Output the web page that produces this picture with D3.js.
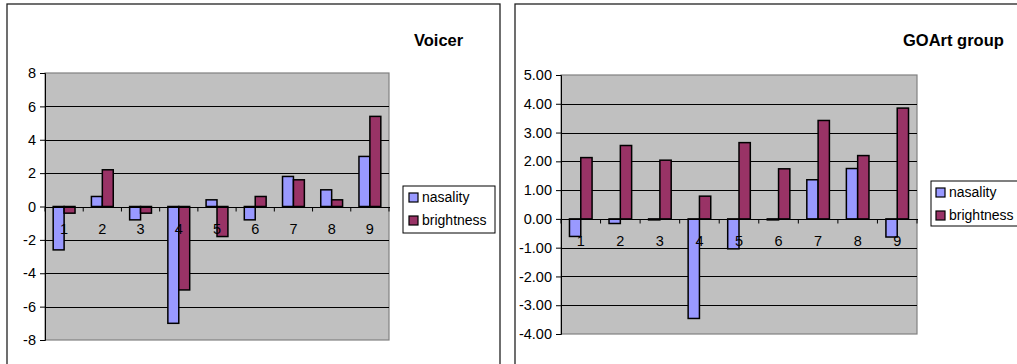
<!DOCTYPE html>
<html><head><meta charset="utf-8">
<script src="https://cdn.jsdelivr.net/npm/d3@7"></script>
<style>
body{margin:0;background:#fff}
svg{display:block;font-family:"Liberation Sans",Arial,sans-serif}
</style>
</head><body>
<svg id="c" width="1017" height="364"></svg>
<script>
const categories = ["1","2","3","4","5","6","7","8","9"];
const seriesNames = ["nasality","brightness"];
const seriesColors = ["#9999FF","#993366"];

const voicerTitle = "Voicer";
const voicerNasality   = [-2.6, 0.6, -0.8, -7.0, 0.4, -0.8, 1.8, 1.0, 3.0];
const voicerBrightness = [-0.4, 2.2, -0.4, -5.0, -1.8, 0.6, 1.6, 0.4, 5.4];
const voicerTicks = [-8,-6,-4,-2,0,2,4,6,8];

const goartTitle = "GOArt group";
const goartNasality   = [-0.61, -0.16, -0.02, -3.46, -1.04, -0.03, 1.36, 1.75, -0.63];
const goartBrightness = [2.13, 2.55, 2.04, 0.79, 2.65, 1.74, 3.42, 2.20, 3.85];
const goartTicks = [-4,-3,-2,-1,0,1,2,3,4,5];

const svg = d3.select("#c");

function drawChart(o) {
  const g = svg.append("g");
  // outer frame
  g.append("rect").attr("x", o.frame[0]).attr("y", o.frame[1])
    .attr("width", o.frame[2]).attr("height", o.frame[3])
    .attr("fill", "#fff").attr("stroke", "#222").attr("stroke-width", 1.3);

  const x = d3.scaleBand().domain(categories).range([o.plot.left, o.plot.right]).padding(0);
  const xs = d3.scaleBand().domain(seriesNames).range([0, x.bandwidth()]).paddingInner(0).paddingOuter(0.75);
  const y = d3.scaleLinear().domain([o.ticks[0], o.ticks[o.ticks.length-1]]).range([o.plot.bottom, o.plot.top]);

  // plot background
  g.append("rect").attr("x", o.plot.left).attr("y", o.plot.top)
    .attr("width", o.plot.right - o.plot.left).attr("height", o.plot.bottom - o.plot.top)
    .attr("fill", "#C0C0C0").attr("stroke", "#808080").attr("stroke-width", 1.2);

  // gridlines
  g.append("g").selectAll("line").data(o.ticks.slice(1, -1)).join("line")
    .attr("x1", o.plot.left).attr("x2", o.plot.right)
    .attr("y1", d => Math.round(y(d)) + 0.5).attr("y2", d => Math.round(y(d)) + 0.5)
    .attr("stroke", "#000").attr("stroke-width", 1);

  // y axis
  const ya = g.append("g").attr("transform", `translate(${o.plot.left},0)`)
    .call(d3.axisLeft(y).tickValues(o.ticks).tickSize(5).tickPadding(4).tickFormat(o.fmt));
  ya.select(".domain").attr("stroke", "#000");
  ya.selectAll(".tick line").attr("stroke", "#000");
  ya.selectAll("text").attr("font-size", 14.5).attr("fill", "#000")
    .attr("font-family", "'Liberation Sans',Arial,sans-serif");

  // bars
  const data = [];
  categories.forEach((c, i) => {
    data.push({c, s: seriesNames[0], v: o.series[0][i], col: seriesColors[0]});
    data.push({c, s: seriesNames[1], v: o.series[1][i], col: seriesColors[1]});
  });
  g.append("g").selectAll("rect").data(data).join("rect")
    .attr("x", d => x(d.c) + xs(d.s))
    .attr("width", xs.bandwidth())
    .attr("y", d => y(Math.max(0, d.v)))
    .attr("height", d => Math.max(1, Math.abs(y(d.v) - y(0))))
    .attr("fill", d => d.col).attr("stroke", "#000").attr("stroke-width", 1.5);

  // x axis at zero
  const y0 = Math.round(y(0)) + 0.5;
  g.append("line").attr("x1", o.plot.left).attr("x2", o.plot.right + 1)
    .attr("y1", y0).attr("y2", y0).attr("stroke", "#000").attr("stroke-width", 1.2);
  const bounds = categories.map(c => x(c)).concat([o.plot.right]);
  g.append("g").selectAll("line").data(bounds).join("line")
    .attr("x1", d => d).attr("x2", d => d).attr("y1", y0).attr("y2", y0 + 4)
    .attr("stroke", "#000");
  g.append("g").selectAll("text").data(categories).join("text")
    .attr("x", d => x(d) + x.bandwidth() / 2).attr("y", y0 + 26)
    .attr("text-anchor", "middle").attr("font-size", 14.5).attr("fill", "#000")
    .text(d => d);

  // title
  g.append("text").attr("x", o.titlePos[0]).attr("y", o.titlePos[1])
    .attr("font-size", 16.5).attr("font-weight", "bold").attr("fill", "#000")
    .text(o.title);

  // legend
  const L = o.legend;
  const lg = g.append("g");
  lg.append("rect").attr("x", L.x).attr("y", L.y).attr("width", L.w).attr("height", L.h)
    .attr("fill", "#fff").attr("stroke", "#000").attr("stroke-width", 1);
  seriesNames.forEach((s, i) => {
    lg.append("rect").attr("x", L.x + L.sw).attr("y", L.y + L.sy + i * 23)
      .attr("width", 9).attr("height", 9)
      .attr("fill", seriesColors[i]).attr("stroke", "#000").attr("stroke-width", 1.2);
    lg.append("text").attr("x", L.x + L.tx).attr("y", L.y + L.sy + 9 + i * 23)
      .attr("font-size", 14).attr("fill", "#000").text(s);
  });
}

drawChart({
  frame: [7, 4, 493, 380],
  plot: {left: 45, right: 389, top: 73, bottom: 340},
  ticks: voicerTicks,
  fmt: d => String(d),
  series: [voicerNasality, voicerBrightness],
  title: voicerTitle,
  titlePos: [414, 46],
  legend: {x: 403, y: 186, w: 92, h: 47, sw: 6, sy: 7, tx: 19}
});

drawChart({
  frame: [515, 4, 600, 380],
  plot: {left: 561, right: 917, top: 75, bottom: 334},
  ticks: goartTicks,
  fmt: d => d.toFixed(2),
  series: [goartNasality, goartBrightness],
  title: goartTitle,
  titlePos: [903, 46],
  legend: {x: 931, y: 181, w: 92, h: 45, sw: 5, sy: 7, tx: 18}
});
</script>
</body></html>
